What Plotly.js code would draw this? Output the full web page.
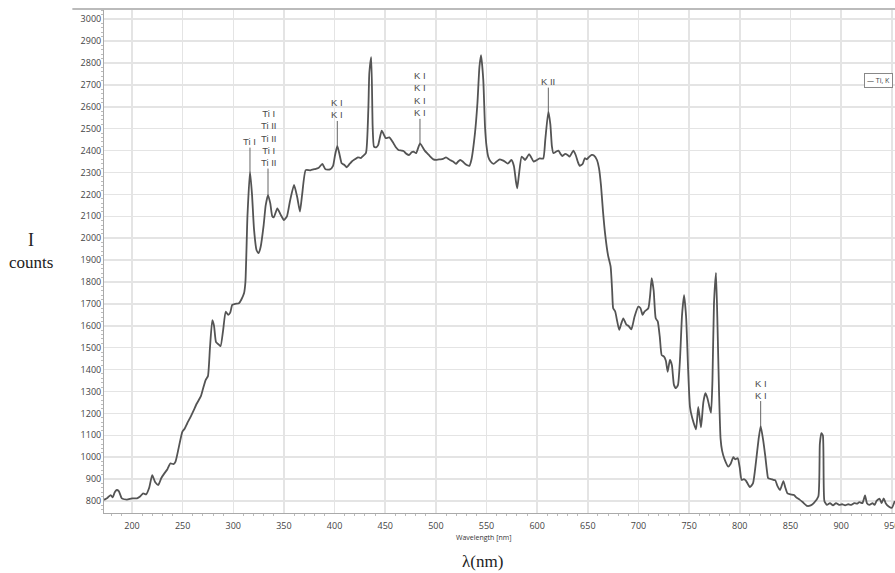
<!DOCTYPE html>
<html>
<head>
<meta charset="utf-8">
<script src="https://cdn.plot.ly/plotly-3.0.1.min.js"></script>
<style>html,body{margin:0;padding:0;background:#fff;}#chart{width:895px;height:573px;}</style>
</head>
<body>
<div id="chart"></div>
<script>
// Wavelength (nm)
const wavelength = [172.4,176,179,181,183,185,187,190,195,200,205,208,211,214,217,220,223,226,229,232,235,238,241,243,246,249.7,252,254.6,258,261,264,267.8,270,272.7,275,277,279.3,281,283,285.5,287.5,290,292.5,295,297,299,302,305.6,308,310.6,312,314,316.5,318.5,320.5,323,325,327,330,332,334.3,336.5,338.5,340,343.5,346.5,350,353,356,360,363,365.8,368,371.5,376,380,384,387.9,391,395.5,398.5,400.5,402.7,405,407,409.5,412,415,417,420,423,426,428,431,433.3,434.3,436.2,437.6,438.9,441,443,446.5,449,450.5,454,458,460.5,463,466,468,471,473.7,476,478,480.5,484.3,487,489,492,494,497.5,501,504,507,510,512.5,514,517,519.8,522,524,526.5,529,531,533,535,538.6,541,543,544.6,546.8,548.5,550,551.7,554,557,560,563,566,568,571,574.5,577,579,580.3,582,584.6,586.5,588,590,592,594,596.5,599,602.5,606,608,611,613,614.5,616,618.5,621,623,625,627.5,630,632,635.7,638,640,642,645,647,649,651,653.8,656,659,661,663,665,667,670,672.5,674,675,677,679,681,683,685,688,690,693,696,699.8,702,704,706,709.7,711.5,713,715,717,719,721,722.9,725,727,728.8,731,733,735,737,739,741,743,745,747,749,750.8,753,756.8,759,761.7,764,766,768,770,771.6,773,774.5,776.5,778,779.5,781,782.5,785,788.6,791,793.6,795.5,798,800,801.8,804,806,810,813,816,818.5,820.6,823,825,827,828,831,833,835,837,839.7,843,845,847,850,853.5,856,859,862,866.6,870,873,877.5,879,880.5,882,883.5,886,889,892,895,898,901,904,907,910,913,916,918,921,923.6,925.5,928,931,933,935,938,940,942,944,947,950,953];
// Intensity (counts)
const counts = [805,815,827,816,840,850,845,812,806,812,812,820,835,830,860,918,885,873,905,926,945,972,968,980,1040,1116,1130,1155,1185,1215,1245,1276,1310,1352,1370,1500,1626,1600,1525,1515,1507,1580,1664,1650,1660,1695,1700,1703,1720,1748,1800,2100,2304,2200,2040,1945,1932,1960,2060,2150,2197,2160,2100,2095,2136,2110,2083,2100,2170,2243,2190,2121,2200,2311,2310,2315,2320,2339,2315,2314,2330,2380,2421,2380,2342,2335,2324,2340,2350,2360,2369,2366,2375,2390,2585,2753,2827,2509,2418,2415,2425,2491,2470,2457,2460,2435,2415,2403,2400,2398,2385,2380,2392,2395,2388,2433,2415,2400,2385,2375,2360,2358,2360,2362,2369,2362,2357,2350,2339,2350,2357,2350,2339,2333,2330,2357,2480,2616,2783,2836,2722,2509,2420,2372,2350,2339,2350,2360,2355,2350,2340,2357,2330,2260,2228,2290,2372,2365,2357,2370,2384,2370,2350,2355,2364,2364,2450,2578,2520,2420,2388,2395,2400,2385,2375,2385,2380,2372,2400,2380,2350,2330,2340,2365,2360,2370,2380,2378,2357,2320,2240,2120,2022,1920,1870,1760,1680,1665,1620,1581,1610,1634,1605,1600,1584,1640,1687,1680,1650,1665,1680,1740,1817,1760,1634,1620,1550,1466,1460,1440,1390,1444,1420,1330,1315,1330,1450,1650,1740,1640,1400,1230,1180,1127,1230,1136,1250,1292,1270,1230,1203,1350,1700,1842,1600,1300,1086,1030,990,957,970,1000,990,995,950,896,900,893,863,880,980,1080,1142,1080,1010,930,904,900,896,895,870,850,891,860,835,830,827,815,806,795,777,780,790,820,1060,1110,1100,800,782,790,780,790,782,785,780,785,782,790,788,795,790,825,790,782,790,782,800,810,790,812,790,775,768,800];

// Line identifications
const lineLabels = ["Ti I", "Ti I<br>Ti II<br>Ti II<br>Ti I<br>Ti II", "K I<br>K I", "K I<br>K I<br>K I<br>K I", "K II", "K I<br>K I"];
const lineWavelengths = [316.5, 334.3, 402.7, 484.3, 611, 820.6];
const lineCounts = [2304, 2197, 2421, 2433, 2578, 1142];
const lineOffsets = [-30, -57, -37, -49, -30, -37];

const seriesName = "Ti, K";

const annotations = lineLabels.map((t, i) => ({
  x: lineWavelengths[i], y: lineCounts[i], xref: 'x', yref: 'y',
  text: t, showarrow: true, arrowhead: 0, arrowwidth: 1, arrowcolor: '#666',
  ax: 0, ay: lineOffsets[i], standoff: 0,
  font: {family: 'Liberation Sans, Arial, sans-serif', size: 9.5, color: '#4a4a4a'},
  borderpad: 0
}));

const paperText = (x, y, text, font) => ({xref: 'paper', yref: 'paper', x, y, text,
  xanchor: 'center', yanchor: 'middle', showarrow: false, font});

annotations.push(
  paperText(0.4804, -0.0497, 'Wavelength [nm]', {family: 'Open Sans, sans-serif', size: 7, color: '#333'}),
  paperText(0.479, -0.0974, 'λ(nm)', {family: 'Liberation Serif, Times New Roman, serif', size: 17, color: '#222'}),
  paperText(-0.0923, 0.5427, 'I', {family: 'Liberation Serif, Times New Roman, serif', size: 18, color: '#222'}),
  paperText(-0.0923, 0.499, 'counts', {family: 'Liberation Serif, Times New Roman, serif', size: 17, color: '#222'}),
  // legend box
  {xref: 'paper', yref: 'paper', x: 0.997, y: 0.875, xanchor: 'right', yanchor: 'top', showarrow: false,
   text: '— ' + seriesName, bgcolor: '#fff', bordercolor: '#888', borderwidth: 1, borderpad: 2,
   font: {family: 'Open Sans, sans-serif', size: 7, color: '#444'}}
);

const trace = {
  x: wavelength, y: counts, type: 'scatter', mode: 'lines', name: seriesName,
  line: {color: '#545454', width: 1.8, shape: 'spline', smoothing: 0.5},
  showlegend: false
};

const layout = {
  width: 895, height: 573,
  margin: {l: 104, r: 0, t: 10, b: 60, autoexpand: false},
  paper_bgcolor: '#fff', plot_bgcolor: '#fff',
  font: {family: 'Open Sans, sans-serif', size: 9, color: '#444'},
  xaxis: {
    range: [172.4, 953.2], tick0: 0, dtick: 50, showgrid: true, gridcolor: '#e4e4e4', gridwidth: 1.5,
    zeroline: false, showline: true, linecolor: '#aaa', linewidth: 1, ticks: '', ticklabelstandoff: 4,
    ticklabeloverflow: 'allow',
    minor: {dtick: 10, ticks: 'outside', ticklen: 2, tickcolor: '#bbb', showgrid: false},
    tickfont: {family: 'Open Sans, sans-serif', size: 9, color: '#444'}
  },
  yaxis: {
    range: [745, 3042], tick0: 0, dtick: 100, showgrid: true, gridcolor: '#e4e4e4', gridwidth: 1.5,
    zeroline: false, showline: true, linecolor: '#aaa', linewidth: 1, ticks: '',
    minor: {dtick: 20, ticks: 'outside', ticklen: 2, tickcolor: '#bbb', showgrid: false},
    tickfont: {family: 'Open Sans, sans-serif', size: 9, color: '#444'}
  },
  showlegend: false,
  shapes: [
    {type: 'line', xref: 'paper', yref: 'paper', x0: -0.04, x1: 1, y0: 1.002, y1: 1.002,
     line: {color: '#bbb', width: 2}}
  ],
  annotations: annotations
};

Plotly.newPlot('chart', [trace], layout, {displayModeBar: false, staticPlot: true});
</script>
</body>
</html>
